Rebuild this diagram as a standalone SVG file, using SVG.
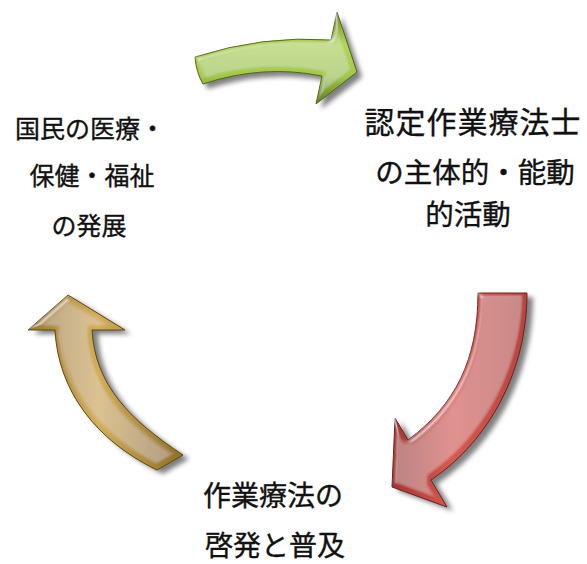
<svg xmlns="http://www.w3.org/2000/svg" width="587" height="564" viewBox="0 0 587 564">
<defs>
  <style>
    .lbl { font-family: "Noto Sans CJK JP", "Noto Sans", sans-serif; fill: #111; stroke: #111; stroke-width: 0.35px; text-anchor: middle; }
    .l25 { font-size: 25px; }
    .l30 { font-size: 30px; letter-spacing: 1px; }
    .l29 { font-size: 28.5px; }
    .l28 { font-size: 28px; }
    .shadow { fill: #000; opacity: 0.5; filter: url(#blur); }
  </style>
  <filter id="blur" x="-20%" y="-20%" width="140%" height="140%">
    <feGaussianBlur stdDeviation="2.5"/>
  </filter>
  <filter id="bevel" x="-20%" y="-20%" width="140%" height="140%">
    <feMorphology in="SourceAlpha" operator="erode" radius="5" result="er"/>
    <feGaussianBlur in="er" stdDeviation="1" result="erb"/>
    <feFlood flood-color="#ffffff" flood-opacity="0.15"/>
    <feComposite in2="erb" operator="in" result="face"/>
    <feGaussianBlur in="SourceAlpha" stdDeviation="2.5" result="ab"/>
    <feSpecularLighting in="ab" surfaceScale="4" specularConstant="0.5" specularExponent="20" lighting-color="#ffffff" result="spec">
      <feDistantLight azimuth="225" elevation="40"/>
    </feSpecularLighting>
    <feComposite in="spec" in2="SourceAlpha" operator="in" result="specIn"/>
    <feMerge>
      <feMergeNode in="SourceGraphic"/>
      <feMergeNode in="face"/>
      <feMergeNode in="specIn"/>
    </feMerge>
  </filter>
  <linearGradient id="gGreen" x1="0" y1="0" x2="0" y2="1">
    <stop offset="0" stop-color="#6e8c22"/>
    <stop offset="0.35" stop-color="#b5d55a"/>
    <stop offset="0.7" stop-color="#a3c64b"/>
    <stop offset="1" stop-color="#5f7c1c"/>
  </linearGradient>
  <linearGradient id="gRed" x1="0" y1="0" x2="1" y2="0">
    <stop offset="0" stop-color="#a33430"/>
    <stop offset="0.45" stop-color="#d85a54"/>
    <stop offset="1" stop-color="#b4443f"/>
  </linearGradient>
  <linearGradient id="gGold" x1="0" y1="0" x2="1" y2="0">
    <stop offset="0" stop-color="#9c7a2c"/>
    <stop offset="0.45" stop-color="#d2ae5a"/>
    <stop offset="1" stop-color="#8f6f25"/>
  </linearGradient>
</defs>

<g id="connectors">
  <g id="arrow-green">
    <path class="shadow" transform="translate(5,5)" d="M195,57 Q263,35 331,40 L337,12 L357,72 L316,104 L322,76 Q263,64 203,84 Q196,72 195,57 Z"/>
    <path d="M195,57 Q263,35 331,40 L337,12 L357,72 L316,104 L322,76 Q263,64 203,84 Q196,72 195,57 Z" fill="url(#gGreen)" stroke="#4f6a14" stroke-width="1" filter="url(#bevel)"/>
  </g>
  <g id="arrow-red">
    <path class="shadow" transform="translate(6,4)" d="M478,293 L527,293 C527,370 490,440 431,480 L447,507 L392,487 L395,418 L408,440 C455,405 478,360 478,293 Z"/>
    <path d="M478,293 L527,293 C527,370 490,440 431,480 L447,507 L392,487 L395,418 L408,440 C455,405 478,360 478,293 Z" fill="url(#gRed)" stroke="#6e1f1d" stroke-width="1" filter="url(#bevel)"/>
  </g>
  <g id="arrow-gold">
    <path class="shadow" transform="translate(6,4)" d="M28,330 L68,295 L125,330 L92,330 C95,385 130,420 183,455 L157,470 C95,440 58,390 55,330 Z"/>
    <path d="M28,330 L68,295 L125,330 L92,330 C95,385 130,420 183,455 L157,470 C95,440 58,390 55,330 Z" fill="url(#gGold)" stroke="#5e4612" stroke-width="1" filter="url(#bevel)"/>
  </g>
</g>

<g id="node-left">
  <text class="lbl l25" x="90" y="138">国民の医療・</text>
  <text class="lbl l25" x="92" y="185">保健・福祉</text>
  <text class="lbl l25" x="89" y="235">の発展</text>
</g>
<g id="node-right">
  <text class="lbl l30" x="473" y="133">認定作業療法士</text>
  <text class="lbl l29" x="475" y="183">の主体的・能動</text>
  <text class="lbl l29" x="468" y="225">的活動</text>
</g>
<g id="node-bottom">
  <text class="lbl l28" x="273" y="506">作業療法の</text>
  <text class="lbl l28" x="275" y="556">啓発と普及</text>
</g>
</svg>
